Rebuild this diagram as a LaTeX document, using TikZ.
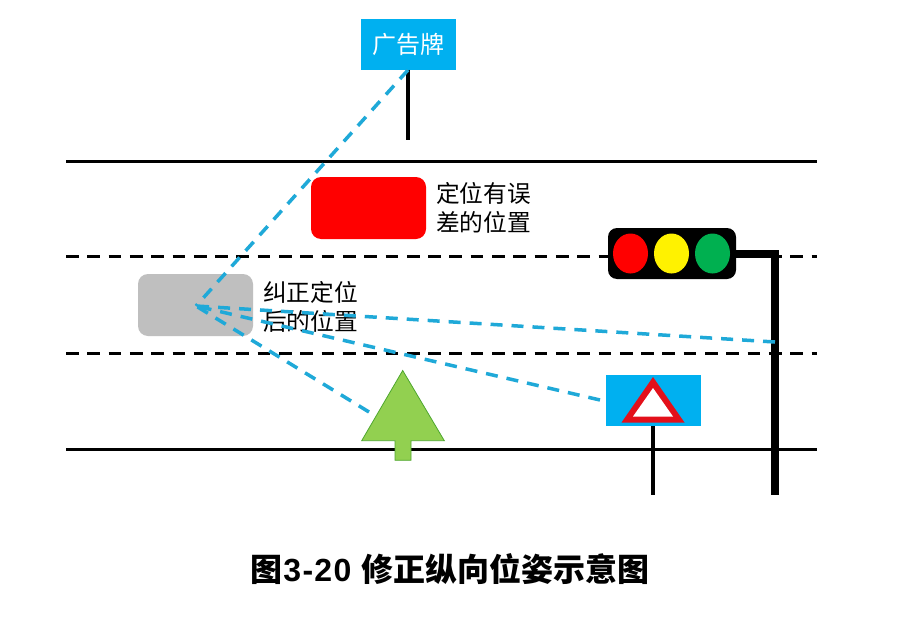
\documentclass[tikz,border=0pt]{standalone}
\usepackage{fontspec}
\setmainfont{Noto Sans CJK SC}
\newfontfamily\latinbold[BoldFont={Liberation Sans Bold},LetterSpace=4]{Liberation Sans}
\definecolor{signblue}{HTML}{00B0F0}
\definecolor{rayblue}{HTML}{1FA9D8}
\definecolor{carred}{HTML}{FF0000}
\definecolor{cargrey}{HTML}{BFBFBF}
\definecolor{lampgreen}{HTML}{00B050}
\definecolor{arrowgreen}{HTML}{92D050}
\definecolor{arrowedge}{HTML}{4EA72E}
\definecolor{warnred}{HTML}{E3101A}
\usetikzlibrary{shapes.geometric}
\tikzset{
  x=1pt,y=-1pt,
  road/.style={line width=3pt,black},
  lane/.style={line width=3pt,black,dash pattern=on 12.7pt off 8.6pt},
  ray/.style={line width=3.5pt,rayblue,dash pattern=on 12pt off 9pt},
  post/.style={line width=4pt,black},
  heavypost/.style={line width=8pt,black},
  car/.style={rounded corners=10pt,minimum width=115pt,minimum height=62pt,inner sep=0pt},
  lamp/.style={ellipse,minimum width=35pt,minimum height=40pt,inner sep=0pt},
  label/.style={font=\fontsize{23.7}{29}\selectfont,align=left,inner sep=0pt,text=black},
}
\begin{document}
\begin{tikzpicture}
\useasboundingbox[fill=white] (0,0) rectangle (910,626);
% roads
\coordinate (r1a) at (66,161); \coordinate (r1b) at (817,161);
\coordinate (r2a) at (66,256); \coordinate (r2b) at (817,256);
\coordinate (r3a) at (66,353); \coordinate (r3b) at (817,353);
\coordinate (r4a) at (66,449); \coordinate (r4b) at (817,449);
\draw[road] (r1a) -- (r1b);
\draw[lane] (r2a) -- (r2b);
\draw[lane] (r3a) -- (r3b);
\draw[road] (r4a) -- (r4b);
% cars
\node[car,fill=carred] (redcar) at (368.5,208) {};
\node[car,fill=cargrey] (greycar) at (195.5,305) {};
\node[label] (redlabel) at (483.5,208) {定位有误\\差的位置};
\node[label] (greylabel) at (310.5,307) {纠正定位\\后的位置};
% billboard
\node[fill=signblue,minimum width=95pt,minimum height=51pt,inner sep=0pt,text=white,font=\fontsize{24}{29}\selectfont] (board) at (408.5,44.5) {广告牌};
\coordinate (boardfoot) at (408,140);
\coordinate (boardbase) at (408,70);
\draw[post] (boardbase) -- (boardfoot);
% traffic light
\coordinate (poletop) at (775,254);
\coordinate (polefoot) at (775,495);
\node[fill=black,rounded corners=9pt,minimum width=128pt,minimum height=51pt,inner sep=0pt] (light) at (672,253.5) {};
\draw[heavypost] (light.east |- poletop) -- (779,254);
\draw[heavypost] (poletop) -- (polefoot);
\node[lamp,fill=carred] (lampr) at (630.5,253.5) {};
\node[lamp,fill=yellow] (lampy) at (671.5,253.5) {};
\node[lamp,fill=lampgreen] (lampg) at (712.5,253.5) {};
% warning sign
\node[fill=signblue,minimum width=95pt,minimum height=51pt,inner sep=0pt] (sign) at (653.5,400.5) {};
\coordinate (signbase) at (653,426);
\coordinate (signfoot) at (653,495);
\draw[post] (signbase) -- (signfoot);
\fill[warnred] (653,377) -- (684.5,422.5) -- (621.5,422.5) -- cycle;
\fill[white] (653,388) -- (673,416.5) -- (633,416.5) -- cycle;
% ground arrow
\draw[fill=arrowgreen,draw=arrowedge,line width=0.8pt] (402.7,370.5) -- (444.3,440.7) -- (411,440.7) -- (411,460.3) -- (395,460.3) -- (395,440.7) -- (361.7,440.7) -- cycle;
% sight rays, dashed from the far end
\coordinate (eye) at (196,306);
\coordinate (toboard) at (408,70);
\coordinate (topole) at (775,342);
\coordinate (tosign) at (600,400);
\coordinate (toarrow) at (369,412);
\draw[ray] (toboard) -- (eye);
\draw[ray] (topole) -- (eye);
\draw[ray] (tosign) -- (eye);
\draw[ray] (toarrow) -- (eye);
% caption
\node[inner sep=0pt,font=\fontsize{32}{36}\selectfont\bfseries] (caption) at (450,569) {图\hspace{1pt}{\latinbold 3-20 }修正纵向位姿示意图};
\end{tikzpicture}
\end{document}
